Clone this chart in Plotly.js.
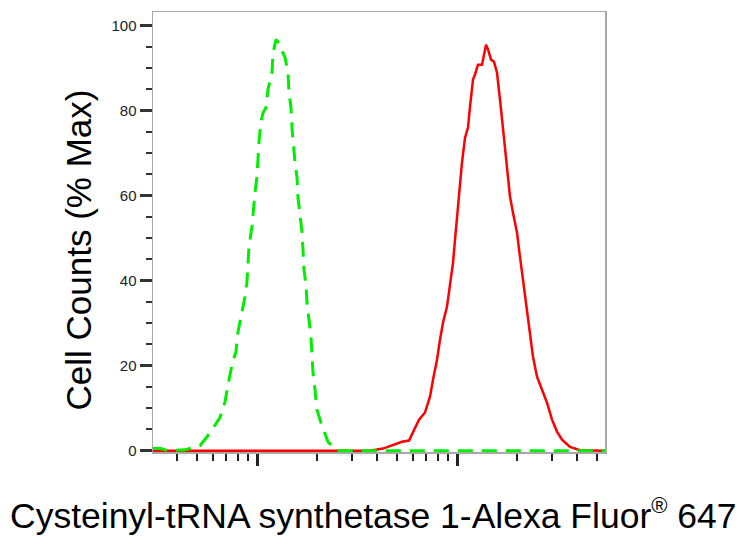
<!DOCTYPE html>
<html>
<head>
<meta charset="utf-8">
<script src="https://cdn.plot.ly/plotly-3.0.1.min.js"></script>
<style>html,body{margin:0;padding:0;background:#fff;}#chart{width:745px;height:546px;}</style>
</head>
<body>
<div id="chart"></div>
<script>
// Isotype control (green dashed)
var controlX = [300, 330, 360, 437, 519, 582, 653, 692, 716, 750, 785, 804, 832, 871, 891, 902, 912, 944, 955, 977, 1000, 1012, 1023, 1047, 1072, 1109, 1135, 1189, 1202, 1245, 1274, 1380, 1429, 1445, 1479, 1496, 1514, 1549, 1585, 1603, 1641, 1679, 1698, 1718, 1758, 1778, 1820, 1862, 1884, 1905, 1950, 1995, 2089, 2265, 2512, 55000];
var controlY = [0.6, 0.5, 0, 0.2, 1.2, 4.2, 7.8, 11.5, 15.5, 20.2, 23.3, 28, 31.5, 36.2, 39.8, 44.5, 48, 52.7, 56.2, 60.7, 64.5, 69, 72.7, 77.4, 79.5, 80.7, 85, 89, 93.6, 96.7, 96.2, 92.5, 89, 84.2, 80.7, 76, 72.5, 67.8, 64.2, 59.5, 55.5, 51.3, 47.3, 42.6, 39, 34.8, 30.8, 26.6, 22.6, 18.4, 14.4, 9.6, 6.6, 2.1, 0, 0];

// Cysteinyl-tRNA synthetase 1 stained sample (red solid)
var sampleX = [300, 3673, 4266, 4786, 5309, 5754, 6026, 6457, 6918, 7328, 7586, 7943, 8222, 8511, 8913, 9226, 9550, 9772, 10116, 10593, 10965, 11350, 11614, 12023, 12303, 12735, 13335, 13646, 13964, 14289, 14791, 15311, 15849, 16406, 16982, 17783, 18408, 19055, 19953, 20654, 21380, 22387, 23174, 23988, 25119, 26607, 28184, 29854, 31623, 33497, 36728, 41210, 47863, 55000];
var sampleY = [0, 0, 0.5, 1.4, 2.1, 2.4, 4.5, 7.3, 9, 12.7, 16.7, 21.4, 26.1, 30.1, 33.9, 38.6, 44.2, 49.6, 57.4, 67.8, 73.6, 76, 80.9, 87.3, 88.5, 90.8, 90.8, 93.2, 95.5, 94.4, 92, 91.5, 88.9, 82.6, 75.5, 67.8, 59.8, 56, 51.3, 45.6, 40.2, 33.9, 28.5, 22.1, 17.4, 14.4, 11.3, 7.3, 4.5, 2.6, 0.9, 0.1, 0, 0];

var xMajorTicks = [1000, 10000];
var xMinorTicks = [400, 500, 600, 700, 800, 900, 2000, 3000, 4000, 5000, 6000, 7000, 8000, 9000, 20000, 30000, 40000, 50000];
var yTicks = [0, 20, 40, 60, 80, 100];
var yTickText = ['0', '20', '40', '60', '80', '100'];
var xTitle = 'Cysteinyl-tRNA synthetase 1-Alexa Fluor<sup><span style="font-size:22px">®</span></sup> 647';
var yTitle = 'Cell Counts (% Max)';

var traces = [
  {x: sampleX, y: sampleY, type: 'scatter', mode: 'lines', name: 'sample',
   line: {color: '#ff0000', width: 2.5}},
  {x: controlX, y: controlY, type: 'scatter', mode: 'lines', name: 'control',
   line: {color: '#00ee00', width: 3, dash: '15px,9px'}}
];

var layout = {
  width: 745, height: 546,
  margin: {l: 153, r: 140, t: 12, b: 94},
  paper_bgcolor: '#fff', plot_bgcolor: '#fff',
  showlegend: false,
  font: {family: 'Liberation Sans, Arial, sans-serif', color: '#000'},
  xaxis: {
    type: 'log', range: [2.48, 4.74],
    tickmode: 'array', tickvals: xMajorTicks, showticklabels: false,
    ticks: 'outside', ticklen: 12, tickwidth: 3, tickcolor: '#222',
    minor: {tickmode: 'array', tickvals: xMinorTicks, ticks: 'outside', ticklen: 7, tickwidth: 2, tickcolor: '#222'},
    showgrid: false, zeroline: false,
    showline: true, linecolor: '#a8a8a8', linewidth: 1.5, mirror: true
  },
  yaxis: {
    range: [-0.3, 103.2],
    tickmode: 'array', tickvals: yTicks, ticktext: yTickText,
    tickfont: {size: 15, color: '#222'},
    ticks: 'outside', ticklen: 12, tickwidth: 3, tickcolor: '#333',
    minor: {dtick: 5, ticks: 'outside', ticklen: 6, tickwidth: 2, tickcolor: '#333'},
    showgrid: false, zeroline: false,
    showline: true, linecolor: '#a8a8a8', linewidth: 1.5, mirror: true
  },
  annotations: [
    {text: xTitle, xref: 'paper', yref: 'paper', x: 0.487, y: -0.143,
     xanchor: 'center', yanchor: 'middle', showarrow: false,
     font: {size: 35.5, color: '#000'}},
    {text: yTitle, xref: 'paper', yref: 'paper', x: -0.165, y: 0.459,
     xanchor: 'center', yanchor: 'middle', textangle: -90, showarrow: false,
     font: {size: 35, color: '#000'}}
  ]
};

Plotly.newPlot('chart', traces, layout, {staticPlot: true, displayModeBar: false});
</script>
</body>
</html>
